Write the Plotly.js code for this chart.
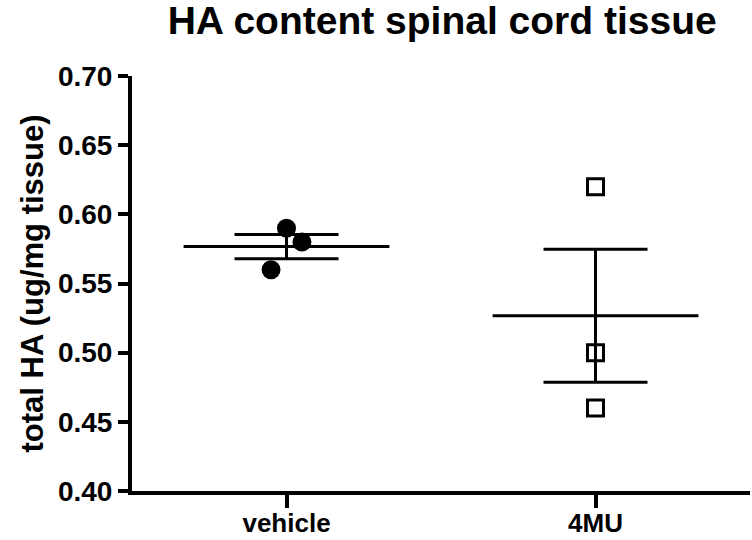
<!DOCTYPE html>
<html>
<head>
<meta charset="utf-8">
<script src="https://cdn.plot.ly/plotly-3.0.1.min.js"></script>
<style>
  body { margin: 0; background: #fff; }
  #chart { width: 752px; height: 540px; }
</style>
</head>
<body>
<div id="chart"></div>
<script>
const groups = ['vehicle', '4MU'];
const vehicleValues = [0.59, 0.58, 0.56];
const mu4Values = [0.62, 0.50, 0.46];
const yTicks = [0.40, 0.45, 0.50, 0.55, 0.60, 0.65, 0.70];

// small horizontal spread so the dots don't sit on top of each other
const spread = [[0, 0.05, -0.05], [0, 0, 0]];

function mean(a) {
    return a.reduce((s, v) => s + v, 0) / a.length;
}
function sem(a) {
    const m = mean(a);
    const sd = Math.sqrt(a.reduce((s, v) => s + (v - m) * (v - m), 0) / (a.length - 1));
    return sd / Math.sqrt(a.length);
}

const allValues = [vehicleValues, mu4Values];
const symbols = ['circle', 'square-open'];
const data = [];

allValues.forEach((vals, i) => {
    const m = mean(vals);
    // mean line
    data.push({
        x: [i - 0.333, i + 0.333],
        y: [m, m],
        mode: 'lines',
        line: { color: 'black', width: 3 },
        hoverinfo: 'skip'
    });
    // SEM bar
    data.push({
        x: [i],
        y: [m],
        mode: 'markers',
        marker: { size: 1, color: 'rgba(0,0,0,0)' },
        error_y: { type: 'data', array: [sem(vals)], width: 52, thickness: 3, color: 'black' },
        hoverinfo: 'skip'
    });
    // individual points
    data.push({
        x: vals.map((v, k) => i + spread[i][k]),
        y: vals,
        mode: 'markers',
        marker: symbols[i] === 'circle'
            ? { symbol: 'circle', size: 19, color: 'black' }
            : { symbol: 'square-open', size: 16, color: 'black', line: { color: 'black', width: 3 } }
    });
});

const fontFam = '"Liberation Sans", Arial, sans-serif';

const layout = {
    width: 752,
    height: 540,
    showlegend: false,
    paper_bgcolor: 'white',
    plot_bgcolor: 'white',
    margin: { l: 132, r: 2, t: 76, b: 49 },
    title: {
        text: '<b>HA content spinal cord tissue</b>',
        font: { family: fontFam, size: 39, color: 'black' },
        x: 0.588, xanchor: 'center',
        y: 0.962, yanchor: 'middle'
    },
    xaxis: {
        range: [-0.5, 1.5],
        tickvals: [0, 1],
        ticktext: groups.map(g => '<b>' + g + '</b>'),
        tickfont: { family: fontFam, size: 26, color: 'black' },
        ticklabelstandoff: -7,
        showgrid: false,
        zeroline: false,
        showline: true,
        linecolor: 'black',
        linewidth: 4,
        ticks: 'outside',
        ticklen: 13,
        tickwidth: 4,
        tickcolor: 'black'
    },
    yaxis: {
        range: [0.40, 0.70],
        tickvals: yTicks,
        ticktext: yTicks.map(t => '<b>' + t.toFixed(2) + '</b>'),
        tickfont: { family: fontFam, size: 28, color: 'black' },
        title: {
            text: '<b>total HA (ug/mg tissue)</b>',
            font: { family: fontFam, size: 31, color: 'black' },
            standoff: 6
        },
        showgrid: false,
        zeroline: false,
        showline: true,
        linecolor: 'black',
        linewidth: 4,
        ticks: 'outside',
        ticklen: 10,
        tickwidth: 4,
        tickcolor: 'black'
    }
};

Plotly.newPlot('chart', data, layout, { staticPlot: true });
</script>
</body>
</html>
